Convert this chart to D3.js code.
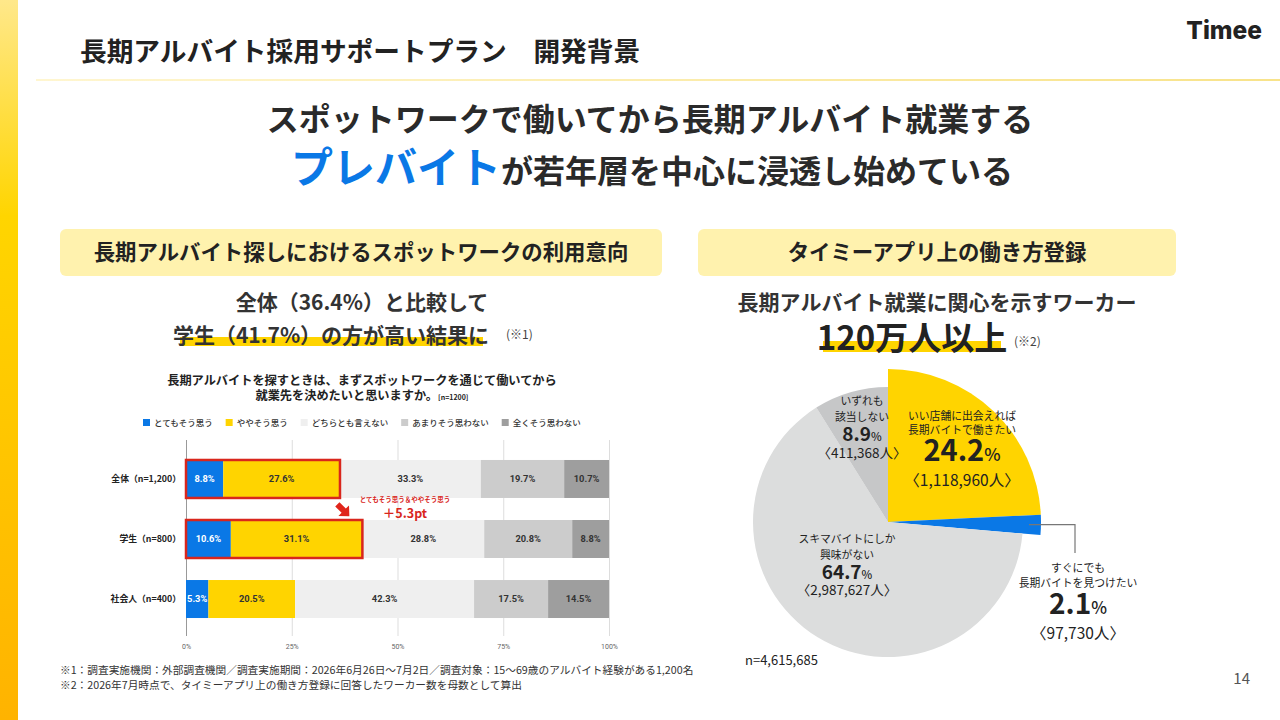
<!DOCTYPE html>
<html>
<head>
<meta charset="utf-8">
<script src="https://cdn.jsdelivr.net/npm/d3@7"></script>
<style>
  body { margin: 0; background: #fff; }
  svg { display: block; font-family: "Noto Sans CJK JP", "Noto Sans", sans-serif; }
</style>
</head>
<body>
<svg id="slide" width="1280" height="720"></svg>
<script>
// bar chart data
let groups = ["全体（n=1,200）", "学生（n=800）", "社会人（n=400）"];
let answers = ["とてもそう思う", "ややそう思う", "どちらとも言えない", "あまりそう思わない", "全くそう思わない"];
let zentai = [8.8, 27.6, 33.3, 19.7, 10.7];
let gakusei = [10.6, 31.1, 28.8, 20.8, 8.8];
let shakaijin = [5.3, 20.5, 42.3, 17.5, 14.5];
let xTicks = [0, 25, 50, 75, 100];
let highlighted = ["全体（n=1,200）", "学生（n=800）"];

// pie data
let pieNames = [
  ["いい店舗に出会えれば", "長期バイトで働きたい"],
  ["すぐにでも", "長期バイトを見つけたい"],
  ["スキマバイトにしか", "興味がない"],
  ["いずれも", "該当しない"],
];
let pieShares = [24.2, 2.1, 64.7, 8.9];
let pieCounts = [1118960, 97730, 2987627, 411368];
let pieTotal = "n=4,615,685";

let barColors = ["#0A78E6", "#FFD400", "#EFEFEF", "#CCCCCC", "#9E9E9E"];
let pieColors = ["#FFD400", "#0A78E6", "#DCDDDD", "#C6C7C8"];

const svg = d3.select("#slide");
const ink = "#222";

// ---- background / frame ----
let defs = svg.append("defs");
let strip = defs.append("linearGradient").attr("id", "strip")
  .attr("x1", 0).attr("y1", 0).attr("x2", 0).attr("y2", 1);
strip.append("stop").attr("offset", "0%").attr("stop-color", "#FFE88A");
strip.append("stop").attr("offset", "30%").attr("stop-color", "#FFD500");
strip.append("stop").attr("offset", "100%").attr("stop-color", "#FFB300");
svg.append("rect").attr("x", 0).attr("y", 0).attr("width", 18).attr("height", 720)
  .attr("fill", "url(#strip)");

let rule = defs.append("linearGradient").attr("id", "rule");
rule.append("stop").attr("offset", "0%").attr("stop-color", "#FFF6D0");
rule.append("stop").attr("offset", "100%").attr("stop-color", "#F8E38A");
svg.append("rect").attr("x", 36).attr("y", 79).attr("width", 1244).attr("height", 2)
  .attr("fill", "url(#rule)");

svg.append("text").attr("x", 80).attr("y", 61)
  .attr("font-size", 26.7).attr("font-weight", 700).attr("fill", ink)
  .text("長期アルバイト採用サポートプラン　開発背景");

svg.append("text").attr("x", 1262).attr("y", 39).attr("text-anchor", "end")
  .attr("font-family", "Inter, sans-serif").attr("font-size", 24.5).attr("font-weight", 800)
  .attr("fill", ink).text("Timee");

// headline
svg.append("text").attr("x", 650).attr("y", 131).attr("text-anchor", "middle")
  .attr("font-size", 32).attr("font-weight", 700).attr("fill", "#2a2a2a")
  .text("スポットワークで働いてから長期アルバイト就業する");
let h2 = svg.append("text").attr("x", 652).attr("y", 183).attr("text-anchor", "middle")
  .attr("font-weight", 700).attr("fill", "#2a2a2a");
h2.append("tspan").attr("font-size", 42).attr("fill", "#0A78E6").text("プレバイト");
h2.append("tspan").attr("font-size", 32).text("が若年層を中心に浸透し始めている");

// section boxes
function sectionBox(x, w, label) {
  svg.append("rect").attr("x", x).attr("y", 229).attr("width", w).attr("height", 47)
    .attr("rx", 6).attr("fill", "#FFF2AE");
  svg.append("text").attr("x", x + w / 2).attr("y", 260).attr("text-anchor", "middle")
    .attr("font-size", 21.4).attr("font-weight", 700).attr("fill", ink).text(label);
}
sectionBox(60, 602, "長期アルバイト探しにおけるスポットワークの利用意向");
sectionBox(698, 478, "タイミーアプリ上の働き方登録");

// left subtitle
svg.append("rect").attr("x", 180).attr("y", 337).attr("width", 303).attr("height", 9)
  .attr("fill", "#FFD400");
svg.append("text").attr("x", 362).attr("y", 310).attr("text-anchor", "middle")
  .attr("font-size", 21).attr("font-weight", 700).attr("fill", "#333")
  .text("全体（36.4%）と比較して");
svg.append("text").attr("x", 331).attr("y", 343).attr("text-anchor", "middle")
  .attr("font-size", 21).attr("font-weight", 700).attr("fill", "#333")
  .text("学生（41.7%）の方が高い結果に");
svg.append("text").attr("x", 506).attr("y", 339)
  .attr("font-size", 12).attr("fill", "#444").text("(※1)");

// right subtitle
svg.append("rect").attr("x", 823).attr("y", 341).attr("width", 178).attr("height", 11)
  .attr("fill", "#FFD400");
svg.append("text").attr("x", 937).attr("y", 310).attr("text-anchor", "middle")
  .attr("font-size", 21).attr("font-weight", 700).attr("fill", "#333")
  .text("長期アルバイト就業に関心を示すワーカー");
svg.append("text").attr("x", 912).attr("y", 350).attr("text-anchor", "middle")
  .attr("font-size", 33).attr("font-weight", 700).attr("fill", ink)
  .text("120万人以上");
svg.append("text").attr("x", 1014).attr("y", 346)
  .attr("font-size", 12).attr("fill", "#444").text("(※2)");

// ---- stacked bar chart ----
let rows = groups.map((g, i) => {
  let vals = [zentai, gakusei, shakaijin][i];
  let acc = 0;
  return {
    group: g,
    segs: vals.map((v, j) => {
      let s = { group: g, idx: j, v: v, x0: acc, x1: acc + v };
      acc += v;
      return s;
    }),
  };
});

let x = d3.scaleLinear().domain([0, 100]).range([186, 609]);
let y = d3.scaleBand().domain(groups).range([449, 629]).paddingInner(0.367).paddingOuter(0.183);

let chart = svg.append("g");

chart.append("text").attr("x", 362).attr("y", 385).attr("text-anchor", "middle")
  .attr("font-size", 12.2).attr("font-weight", 700).attr("fill", ink)
  .text("長期アルバイトを探すときは、まずスポットワークを通じて働いてから");
let t2 = chart.append("text").attr("x", 362).attr("y", 400).attr("text-anchor", "middle")
  .attr("font-weight", 700).attr("fill", ink);
t2.append("tspan").attr("font-size", 12.2).text("就業先を決めたいと思いますか。");
t2.append("tspan").attr("font-size", 7).text("[n=1200]");

// legend
let lg = chart.append("g").attr("transform", "translate(143,423)");
let lx = 0;
answers.forEach((a, i) => {
  let item = lg.append("g").attr("transform", `translate(${lx},0)`);
  item.append("rect").attr("x", 0).attr("y", -4).attr("width", 7).attr("height", 7)
    .attr("fill", barColors[i]);
  let t = item.append("text").attr("x", 11).attr("y", 3)
    .attr("font-size", 8.5).attr("font-weight", 500).attr("fill", "#333").text(a);
  lx += 11 + t.node().getComputedTextLength() + 13;
});

// grid + axis
let axis = d3.axisBottom(x).tickValues(xTicks).tickSize(-(636 - 440))
  .tickFormat((d) => d + "%");
let ag = chart.append("g").attr("transform", "translate(0,636)").call(axis);
ag.select(".domain").remove();
ag.selectAll(".tick line").attr("stroke", (d) => (d === 0 ? "#999" : "#ddd"));
ag.selectAll(".tick text").attr("font-size", 7).attr("fill", "#666")
  .attr("font-family", "Roboto, sans-serif").attr("dy", "1.4em");

// bars
let bar = chart.selectAll(".row").data(rows).join("g").attr("class", "row");
bar.selectAll("rect").data((d) => d.segs).join("rect")
  .attr("x", (d) => x(d.x0))
  .attr("y", (d) => y(d.group))
  .attr("width", (d) => x(Math.min(d.x1, 100)) - x(d.x0))
  .attr("height", y.bandwidth())
  .attr("fill", (d) => barColors[d.idx]);
bar.selectAll("text").data((d) => d.segs).join("text")
  .attr("x", (d) => x((d.x0 + Math.min(d.x1, 100)) / 2))
  .attr("y", (d) => y(d.group) + y.bandwidth() / 2)
  .attr("dy", "0.35em").attr("text-anchor", "middle")
  .attr("font-family", "Roboto, sans-serif")
  .attr("font-size", 9.3).attr("font-weight", 700)
  .attr("fill", (d) => (d.idx === 0 ? "#fff" : "#333"))
  .text((d) => d.v.toFixed(1) + "%");

chart.selectAll(".cat").data(groups).join("text").attr("class", "cat")
  .attr("x", 181).attr("y", (d) => y(d) + y.bandwidth() / 2).attr("dy", "0.35em")
  .attr("text-anchor", "end").attr("font-size", 8.8).attr("font-weight", 700)
  .attr("fill", ink).text((d) => d);

// red highlight boxes
rows.filter((r) => highlighted.includes(r.group)).forEach((r) => {
  chart.append("rect")
    .attr("x", x(0)).attr("y", y(r.group))
    .attr("width", x(r.segs[1].x1) - x(0)).attr("height", y.bandwidth())
    .attr("fill", "none").attr("stroke", "#D9261C").attr("stroke-width", 2.5);
});

// arrow + annotation
chart.append("path")
  .attr("d", "M-3,-8 L3,-8 L3,1 L7.5,1 L0,9 L-7.5,1 L-3,1 Z")
  .attr("transform", "translate(343,510) rotate(-45)")
  .attr("fill", "#E0251B");
let note = chart.append("text").attr("x", 405).attr("y", 502).attr("text-anchor", "middle")
  .attr("font-weight", 700).attr("fill", "#D9261C");
note.append("tspan").attr("font-size", 6.5).text("とてもそう思う＆ややそう思う");
note.append("tspan").attr("x", 405).attr("dy", 16).attr("font-size", 12.5).text("＋5.3pt");

// ---- pie ----
let cx = 888, cy = 522;
let rBig = 153, rSmall = 135;
let pie = d3.pie().sort(null).value((d) => d)(pieCounts);
let arc = d3.arc().innerRadius(0)
  .outerRadius((d) => (d.index < 2 ? rBig : rSmall));
let pg = svg.append("g").attr("transform", `translate(${cx},${cy})`);
pg.selectAll("path").data(pie).join("path")
  .attr("d", arc).attr("fill", (d, i) => pieColors[i]);

// label anchors (offset from pie centre) and sizes
let labelPos = [
  { dx: 74, dy: -102, big: 29, small: 15.5, gap: [14, 27, 25] },
  { dx: 190, dy: 50, big: 28, small: 15.5, gap: [15, 27, 25] },
  { dx: -41, dy: 21, big: 19, small: 13.5, gap: [15.5, 20, 16] },
  { dx: -26, dy: -117, big: 19, small: 13.5, gap: [16, 20, 17] },
];
let fmt = d3.format(",");
pieNames.forEach((name, i) => {
  let p = labelPos[i];
  let t = svg.append("text").attr("transform", `translate(${cx + p.dx},${cy + p.dy})`)
    .attr("text-anchor", "middle").attr("fill", ink);
  t.append("tspan").attr("x", 0).attr("y", 0).attr("font-size", 10.8).text(name[0]);
  t.append("tspan").attr("x", 0).attr("dy", p.gap[0]).attr("font-size", 10.8).text(name[1]);
  t.append("tspan").attr("x", 0).attr("dy", p.gap[1]).attr("font-size", p.big)
    .attr("font-weight", 700).text(pieShares[i].toFixed(1));
  t.append("tspan").attr("font-size", p.big * 0.6).attr("font-weight", 500).text("%");
  t.append("tspan").attr("x", 0).attr("dy", p.gap[2]).attr("font-size", p.small)
    .text("〈" + fmt(pieCounts[i]) + "人〉");
});

// leader for the small blue slice
let blueMid = (pie[1].startAngle + pie[1].endAngle) / 2;
let lx0 = cx + Math.sin(blueMid) * (rBig - 12);
let ly0 = cy - Math.cos(blueMid) * (rBig - 12);
svg.append("path")
  .attr("d", `M${lx0},${ly0} H1075 V553`)
  .attr("fill", "none").attr("stroke", "#777").attr("stroke-width", 1.2);

svg.append("text").attr("x", 745).attr("y", 665).attr("font-size", 13)
  .attr("fill", ink).text(pieTotal);

// footnotes
let foot = svg.append("text").attr("x", 60).attr("y", 674).attr("font-size", 10.7).attr("fill", "#333");
foot.append("tspan").attr("x", 60)
  .text("※1：調査実施機関：外部調査機関／調査実施期間：2026年6月26日〜7月2日／調査対象：15〜69歳のアルバイト経験がある1,200名");
foot.append("tspan").attr("x", 60).attr("dy", 15)
  .text("※2：2026年7月時点で、タイミーアプリ上の働き方登録に回答したワーカー数を母数として算出");

svg.append("text").attr("x", 1250).attr("y", 684).attr("text-anchor", "end")
  .attr("font-size", 15).attr("fill", "#555").text("14");
</script>
</body>
</html>
